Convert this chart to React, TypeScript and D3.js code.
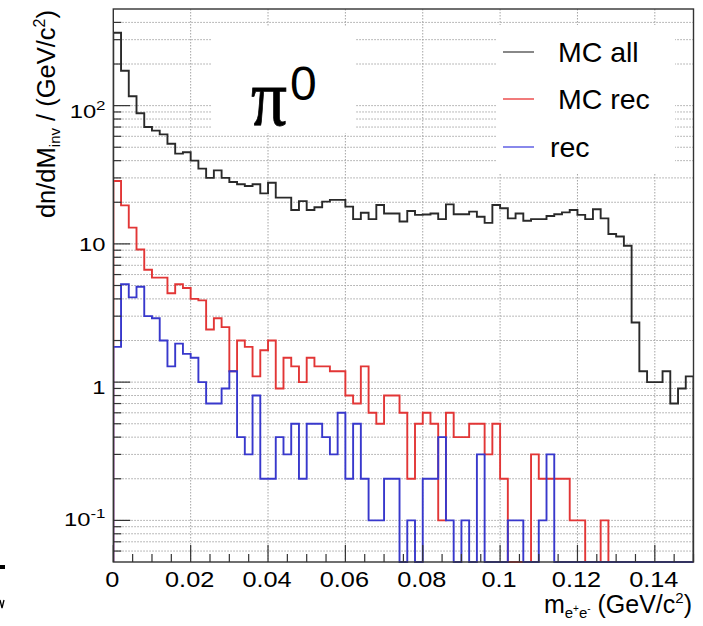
import React from "react";
import * as d3 from "d3";

// ---------- data ----------
const BIN_WIDTH = 0.002;
const X_MAX = 0.15;
const Y_MIN = 0.05;
const Y_MAX = 500;

const mcAll = [
  337, 179, 117, 88, 70, 66, 62, 53, 45, 46,
  40, 35, 30, 34, 30, 28, 27, 26.2, 27, 23.2,
  27.7, 21.6, 21.6, 17.6, 20.4, 17.6, 18.4, 20.2, 20.8, 20.8,
  18.6, 15.1, 16.8, 15.1, 19.1, 16.6, 16.6, 14.5, 17.3, 16.2,
  16.3, 16.6, 15.1, 19.3, 16.4, 16.4, 17.1, 15.7, 14.2, 19.1,
  18.1, 15.3, 16.6, 14.7, 15.1, 15.1, 15.9, 16.4, 16.9, 17.6,
  16.2, 15.1, 17.8, 15.3, 11.8, 11.3, 9.7, 2.7, 1.2, 1.0,
  1.0, 1.2, 0.7, 0.9, 1.1,
];

const mcRec = [
  28.5, 19, 13.1, 9.1, 6.5, 5.7, 5.7, 4.4, 5.1, 4.8,
  4.0, 3.9, 2.4, 2.9, 2.5, 1.2, 2.0, 1.8, 1.1, 1.7,
  2.0, 0.9, 1.5, 1.3, 1.0, 1.5, 1.3, 1.3, 1.2, 1.2,
  0.8, 0.7, 1.3, 0.6, 0.5, 0.8, 0.8, 0.6, 0.2, 0.5,
  0.6, 0.5, 0.1, 0.6, 0.4, 0.4, 0.5, 0.5, 0.3, 0.5,
  0.2, 0, 0, 0, 0.3, 0.2, 0.2, 0.2, 0.2, 0.1,
  0.1, 0, 0, 0.1, 0, 0, 0, 0, 0, 0,
  0, 0, 0, 0, 0,
];

const rec = [
  1.8, 5.1, 4.1, 4.9, 3.0, 2.9, 2.0, 1.3, 1.9, 1.6,
  1.5, 1.0, 0.7, 0.7, 0.9, 1.2, 0.4, 0.3, 0.8, 0.2,
  0.2, 0.4, 0.3, 0.5, 0.2, 0.5, 0.5, 0.4, 0.3, 0.6,
  0.2, 0.5, 0.2, 0.1, 0.1, 0.2, 0.2, 0, 0.1, 0,
  0.2, 0.2, 0.4, 0.1, 0, 0.1, 0, 0.3, 0, 0,
  0, 0.1, 0.1, 0, 0, 0.1, 0.3, 0, 0, 0,
  0, 0, 0, 0, 0, 0, 0, 0, 0, 0,
  0, 0, 0, 0, 0,
];

const seriesNames = [" MC all", " MC rec", "rec"];
const seriesColors = ["#2a2a2a", "#e23636", "#3838cc"];
const legendColors = ["#6a6a6a", "#ee5a5a", "#6b6be6"];

const xTickValues = [0, 0.02, 0.04, 0.06, 0.08, 0.1, 0.12, 0.14];
const xTickLabels = ["0", "0.02", "0.04", "0.06", "0.08", "0.1", "0.12", "0.14"];
const yLabelValues = [100, 10, 1, 0.1];
const yLabelBase = ["10", "10", "1", "10"];
const yLabelSup = ["2", "", "", "-1"];

// ---------- layout ----------
const W = 703;
const H = 626;
const FR = { left: 113.3, right: 693.5, top: 9, bottom: 562 };
const FONT = "'Liberation Sans', Arial, Helvetica, sans-serif";

export default function App() {
  const x = d3.scaleLinear().domain([0, X_MAX]).range([FR.left, FR.right]);
  const y = d3.scaleLog().domain([Y_MIN, Y_MAX]).range([FR.bottom, FR.top]);

  const logTicks = y.ticks().filter((v) => v > Y_MIN * 1.0001 && v < Y_MAX * 0.9999);
  const isDecade = (v: number) => Math.abs(Math.log10(v) - Math.round(Math.log10(v))) < 1e-6;
  const xMinor = d3.range(31).map((i) => i * 0.005);

  const line = d3
    .line<[number, number]>()
    .x((d) => x(d[0]))
    .y((d) => y(d[1]))
    .curve(d3.curveStepAfter);

  const stepPath = (vals: number[]) => {
    const pts: [number, number][] = [[0, Y_MIN]];
    vals.forEach((v, i) => pts.push([i * BIN_WIDTH, Math.max(v, Y_MIN)]));
    pts.push([vals.length * BIN_WIDTH, Math.max(vals[vals.length - 1], Y_MIN)]);
    pts.push([vals.length * BIN_WIDTH, Y_MIN]);
    return line(pts) || "";
  };

  const series = [mcAll, mcRec, rec];
  const legendRowY = [52, 99, 147];
  const legendTextX = [550, 550, 550];

  const gridColor = "#a4a4a4";

  return (
    <svg
      width={W}
      height={H}
      style={{ position: "absolute", left: 0, top: 0, background: "#fff" }}
      fontFamily={FONT}
    >
      <rect x={0} y={0} width={W} height={H} fill="#fff" />
      <defs>
        <clipPath id="frameClip">
          <rect x={FR.left} y={FR.top} width={FR.right - FR.left} height={FR.bottom - FR.top + 2} />
        </clipPath>
      </defs>

      {/* horizontal grid lines */}
      {logTicks.map((v, i) => (
        <line
          key={"hg" + i}
          x1={FR.left}
          x2={FR.right}
          y1={y(v)}
          y2={y(v)}
          stroke={gridColor}
          strokeWidth={1}
          strokeDasharray="1.5 1.5"
        />
      ))}
      {/* vertical grid lines */}
      {xTickValues
        .filter((v) => v > 0)
        .map((v, i) => (
          <line
            key={"vg" + i}
            x1={x(v)}
            x2={x(v)}
            y1={FR.top}
            y2={FR.bottom}
            stroke={gridColor}
            strokeWidth={1}
            strokeDasharray="1.5 1.5"
          />
        ))}

      {/* white boxes behind labels */}
      <rect x={211} y={27} width={145} height={106} fill="#fff" />
      <rect x={497} y={25} width={178} height={148} fill="#fff" />

      {/* pi0 label */}
      <text
        x={251}
        y={125}
        fontFamily="'Liberation Serif', 'DejaVu Serif', serif"
        fontSize={80}
        textLength={36}
        lengthAdjust="spacingAndGlyphs"
        fill="#000"
        stroke="#000"
        strokeWidth={0.8}
      >
        π
      </text>
      <text x={290} y={100} fontSize={48} fill="#000">
        0
      </text>

      {/* legend */}
      {seriesNames.map((name, i) => (
        <g key={"lg" + i}>
          <line
            x1={503}
            x2={534}
            y1={legendRowY[i]}
            y2={legendRowY[i]}
            stroke={legendColors[i]}
            strokeWidth={1.6}
          />
          <text
            x={legendTextX[i]}
            y={legendRowY[i] + 10}
            fontSize={28.5}
            fill="#000"
            style={{ whiteSpace: "pre" }}
          >
            {name}
          </text>
        </g>
      ))}

      {/* histograms */}
      <g clipPath="url(#frameClip)">
        {series.map((vals, i) => (
          <path
            key={"h" + i}
            d={stepPath(vals)}
            fill="none"
            stroke={seriesColors[i]}
            strokeWidth={1.9}
            strokeLinejoin="miter"
          />
        ))}
      </g>

      {/* frame */}
      <rect
        x={FR.left}
        y={FR.top}
        width={FR.right - FR.left}
        height={FR.bottom - FR.top}
        fill="none"
        stroke="#333"
        strokeWidth={1.4}
      />

      {/* x ticks */}
      {xMinor.map((v, i) => {
        const major = i % 4 === 0;
        return (
          <line
            key={"xt" + i}
            x1={x(v)}
            x2={x(v)}
            y1={FR.bottom}
            y2={FR.bottom - (major ? 17 : 8)}
            stroke="#333"
            strokeWidth={1.2}
          />
        );
      })}
      {/* y ticks */}
      {logTicks.map((v, i) => (
        <line
          key={"yt" + i}
          x1={FR.left}
          x2={FR.left + (isDecade(v) ? 17 : 8)}
          y1={y(v)}
          y2={y(v)}
          stroke="#333"
          strokeWidth={1.2}
        />
      ))}

      {/* x tick labels */}
      {xTickValues.map((v, i) => (
        <text
          key={"xl" + i}
          transform={`translate(${x(v) - 1},587) scale(1.15,1)`}
          textAnchor="middle"
          fontSize={22}
          fill="#000"
        >
          {xTickLabels[i]}
        </text>
      ))}

      {/* y tick labels */}
      {yLabelValues.map((v, i) => {
        const offs = [12.6, 7, 11.5, 6][i];
        return (
          <text
            key={"yl" + i}
            transform={`translate(105.5,${y(v) + offs}) scale(1.25,1)`}
            textAnchor="end"
            fontSize={19}
            fill="#000"
          >
            {yLabelBase[i]}
            {yLabelSup[i] && (
              <tspan fontSize={13.5} dy={-8}>
                {yLabelSup[i]}
              </tspan>
            )}
          </text>
        );
      })}

      {/* x axis title */}
      <text x={692} y={613} textAnchor="end" fontSize={25} fill="#000">
        m
        <tspan fontSize={15} dy={5}>e</tspan>
        <tspan fontSize={10} dy={-6}>+</tspan>
        <tspan fontSize={15} dy={6}>e</tspan>
        <tspan fontSize={10} dy={-6}>-</tspan>
        <tspan fontSize={25} dy={1}> (GeV/c</tspan>
        <tspan fontSize={15} dy={-10}>2</tspan>
        <tspan fontSize={25} dy={10}>)</tspan>
      </text>

      {/* y axis title */}
      <text
        transform="translate(55,10) rotate(-90)"
        textAnchor="end"
        fontSize={25.5}
        fill="#000"
      >
        dn/dM
        <tspan fontSize={15} dy={5}>inv</tspan>
        <tspan fontSize={25.5} dy={-5}> / (GeV/c</tspan>
        <tspan fontSize={16} dy={-10}>2</tspan>
        <tspan fontSize={25.5} dy={10}>)</tspan>
      </text>

      {/* cropped fragments at far left (pieces of a neighbouring figure) */}
      <rect x={0} y={565} width={5} height={4} fill="#000" />
      <path d="M0,600 L2,608 L4,600" fill="none" stroke="#000" strokeWidth={1.3} />
    </svg>
  );
}
